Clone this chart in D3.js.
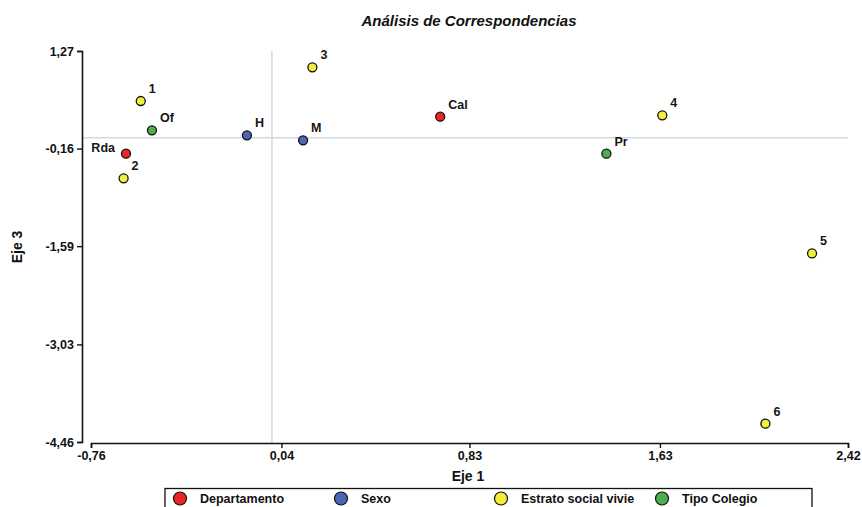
<!DOCTYPE html>
<html>
<head>
<meta charset="utf-8">
<script src="https://cdn.jsdelivr.net/npm/d3@7"></script>
<style>
  html, body { margin: 0; padding: 0; background: #fff; }
  svg { display: block; font-family: "Liberation Sans", Arial, sans-serif; }
</style>
</head>
<body>
<svg id="chart" width="862" height="507"></svg>
<script>
// ---- data ----
const groups = ["Departamento", "Sexo", "Estrato social vivie", "Tipo Colegio"];
const groupColors = ["#ec2424", "#4b66b3", "#f4ee3a", "#4cae4c"];
const pointLabels = ["1", "2", "3", "4", "5", "6", "Rda", "Cal", "H", "M", "Of", "Pr"];
const pointGroups = [2, 2, 2, 2, 2, 2, 0, 0, 1, 1, 3, 3];
const eje1 = [-0.551, -0.623, 0.170, 1.640, 2.269, 2.073, -0.613, 0.707, -0.105, 0.131, -0.504, 1.405];
const eje3 = [0.537, -0.596, 1.031, 0.328, -1.695, -4.192, -0.235, 0.307, 0.034, -0.039, 0.108, -0.235];
const xTicks = [-0.76, 0.04, 0.83, 1.63, 2.42];
const yTicks = [1.27, -0.16, -1.59, -3.03, -4.46];

const points = pointLabels.map((l, i) => ({ label: l, g: pointGroups[i], x: eje1[i], y: eje3[i] }));

// ---- layout ----
const svg = d3.select("#chart");
const x = d3.scaleLinear().domain([-0.76, 2.42]).range([91, 848]);
const y = d3.scaleLinear().domain([-4.46, 1.27]).range([442, 51]);
const fmt = v => d3.format(".2f")(v).replace(".", ",").replace("−", "-");

// crosshair reference lines
svg.append("line")
  .attr("x1", 82).attr("x2", 848)
  .attr("y1", y(0)).attr("y2", y(0))
  .attr("stroke", "#d4d9dd").attr("stroke-width", 1.5);
svg.append("line")
  .attr("x1", x(0)).attr("x2", x(0))
  .attr("y1", 51).attr("y2", 443)
  .attr("stroke", "#d4d9dd").attr("stroke-width", 1.5);

// axes
const yAxis = svg.append("g")
  .attr("transform", "translate(82,0)")
  .call(d3.axisLeft(y).tickValues(yTicks).tickFormat(fmt).tickSizeOuter(0).tickSize(5).tickPadding(3));
const xAxis = svg.append("g")
  .attr("transform", "translate(0,443)")
  .call(d3.axisBottom(x).tickValues(xTicks).tickFormat(fmt).tickSizeOuter(0).tickSize(5).tickPadding(3));
[xAxis, yAxis].forEach(a => {
  a.select(".domain").attr("stroke", "#111").attr("stroke-width", 1.6);
  a.selectAll(".tick line").attr("stroke", "#111").attr("stroke-width", 1.4);
  a.selectAll(".tick text")
    .attr("fill", "#111")
    .style("font-family", "'Liberation Sans', Arial, sans-serif")
    .style("font-size", "12.5px")
    .style("font-weight", "bold");
});

// title
svg.append("text")
  .attr("x", 469).attr("y", 26)
  .attr("text-anchor", "middle")
  .style("font-size", "15px").style("font-weight", "bold").style("font-style", "italic")
  .attr("fill", "#111")
  .text("Análisis de Correspondencias");

// axis titles
svg.append("text")
  .attr("x", 468).attr("y", 481)
  .attr("text-anchor", "middle")
  .style("font-size", "14px").style("font-weight", "bold")
  .attr("fill", "#111")
  .text("Eje 1");
svg.append("text")
  .attr("transform", "translate(22,247) rotate(-90)")
  .attr("text-anchor", "middle")
  .style("font-size", "14px").style("font-weight", "bold")
  .attr("fill", "#111")
  .text("Eje 3");

// points
svg.append("g").selectAll("circle")
  .data(points).join("circle")
  .attr("cx", d => x(d.x)).attr("cy", d => y(d.y))
  .attr("r", 4.5)
  .attr("fill", d => groupColors[d.g])
  .attr("stroke", "#111").attr("stroke-width", 1.3);

// point labels
svg.append("g").selectAll("text")
  .data(points).join("text")
  .attr("x", d => x(d.x) + (d.label === "Rda" ? -11 : 8))
  .attr("y", d => y(d.y) + (d.label === "Rda" ? -2 : -8))
  .attr("text-anchor", d => d.label === "Rda" ? "end" : "start")
  .style("font-size", "12.5px").style("font-weight", "bold")
  .attr("fill", "#151515")
  .text(d => d.label);

// legend
const lg = svg.append("g");
lg.append("rect")
  .attr("x", 165).attr("y", 488.5)
  .attr("width", 647).attr("height", 30)
  .attr("fill", "#fff").attr("stroke", "#111").attr("stroke-width", 1.3);
const legendX = [180, 341, 501, 662];
groups.forEach((g, i) => {
  lg.append("circle")
    .attr("cx", legendX[i]).attr("cy", 498.5).attr("r", 6.5)
    .attr("fill", groupColors[i]).attr("stroke", "#111").attr("stroke-width", 1.2);
  lg.append("text")
    .attr("x", legendX[i] + 20).attr("y", 503)
    .style("font-size", "12.5px").style("font-weight", "bold")
    .attr("fill", "#111")
    .text(g);
});
</script>
</body>
</html>
